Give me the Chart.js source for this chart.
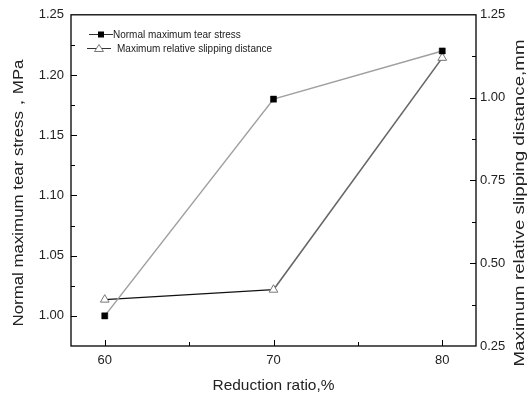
<!DOCTYPE html>
<html><head><meta charset="utf-8">
<script src="https://cdn.jsdelivr.net/npm/chart.js@4"></script>
<style>html,body{margin:0;padding:0;background:#fff}#wrap{width:529px;height:400px}</style>
</head><body><div id="wrap"><canvas id="c"></canvas></div>
<script>
const categories = [60, 70, 80];
const tearStress = [1.00, 1.18, 1.22];
const slipDistance = [0.39, 0.42, 1.12];
const leftTicks = [1.00, 1.05, 1.10, 1.15, 1.20, 1.25];
const rightTicks = [0.25, 0.50, 0.75, 1.00, 1.25];
const xTicks = [60, 70, 80];
const xTitle = 'Reduction ratio,%';
const yTitle = 'Normal maximum tear stress，MPa';
const y2Title = 'Maximum relative slipping distance,mm';
const FONT = "'Liberation Sans', Arial, sans-serif";

function fitText(ctx, text, cx, cy, rot, targetLen, size) {
  ctx.save();
  ctx.font = size + 'px ' + FONT;
  const w = ctx.measureText(text).width;
  ctx.translate(cx, cy);
  ctx.rotate(rot);
  ctx.scale(targetLen / w, 1);
  ctx.textAlign = 'center'; ctx.textBaseline = 'middle'; ctx.fillStyle = '#222';
  ctx.fillText(text, 0, 0);
  ctx.restore();
}

const insideTicks = {
  id: 'insideTicks',
  afterDraw(chart) {
    const ctx = chart.ctx, a = chart.chartArea;
    const x = chart.scales.x, y = chart.scales.y, y2 = chart.scales.y2;
    ctx.save();
    ctx.strokeStyle = '#000'; ctx.lineWidth = 1.3;
    ctx.strokeRect(a.left, a.top, a.right - a.left, a.bottom - a.top);
    ctx.lineWidth = 1;
    ctx.beginPath();
    for (let v = 60; v <= 80; v += 5) {
      const px = Math.round(x.getPixelForValue(v)) + 0.5;
      const L = v % 10 === 0 ? 6 : 4;
      ctx.moveTo(px, a.bottom); ctx.lineTo(px, a.bottom - L);
    }
    for (let i = 0; i <= 11; i++) {
      const v = 0.975 + i * 0.025;
      const py = Math.round(y.getPixelForValue(v)) + 0.5;
      const L = i % 2 === 1 ? 6 : 4;
      if (py > a.top + 1 && py < a.bottom - 1) { ctx.moveTo(a.left, py); ctx.lineTo(a.left + L, py); }
    }
    for (let i = 0; i <= 8; i++) {
      const v = 0.25 + i * 0.125;
      const py = Math.round(y2.getPixelForValue(v)) + 0.5;
      const L = i % 2 === 0 ? 6 : 4;
      if (py > a.top + 1 && py < a.bottom - 1) { ctx.moveTo(a.right, py); ctx.lineTo(a.right - L, py); }
    }
    ctx.stroke();
    // legend
    ctx.font = '10px ' + FONT; ctx.fillStyle = '#222'; ctx.textBaseline = 'middle';
    ctx.strokeStyle = '#333'; ctx.lineWidth = 1;
    ctx.beginPath(); ctx.moveTo(89, 34.5); ctx.lineTo(113, 34.5); ctx.stroke();
    ctx.fillStyle = '#000'; ctx.fillRect(98, 31.5, 6, 6);
    ctx.fillStyle = '#222';
    ctx.fillText(chart.data.datasets[0].label, 113, 35);
    ctx.beginPath(); ctx.moveTo(87, 48.5); ctx.lineTo(111, 48.5); ctx.stroke();
    ctx.fillStyle = '#fff'; ctx.strokeStyle = '#777';
    ctx.beginPath(); ctx.moveTo(99, 44.5); ctx.lineTo(103.5, 51.5); ctx.lineTo(94.5, 51.5); ctx.closePath(); ctx.fill(); ctx.stroke();
    ctx.fillStyle = '#222';
    ctx.fillText(chart.data.datasets[1].label, 117, 49);
    ctx.restore();
    // axis titles
    fitText(ctx, xTitle, (a.left + a.right) / 2, 386, 0, 122, 15);
    fitText(ctx, yTitle, 19, 193, -Math.PI / 2, 267, 15);
    fitText(ctx, y2Title, 520, 203, -Math.PI / 2, 327, 14);
  }
};

new Chart(document.getElementById('c'), {
  type: 'line',
  data: {
    datasets: [
      {
        label: 'Normal maximum tear stress',
        data: categories.map((c, i) => ({x: c, y: tearStress[i]})),
        yAxisID: 'y',
        borderColor: '#a0a0a0', borderWidth: 1.5,
        pointStyle: 'rect', pointRadius: 4.3, pointBackgroundColor: '#000', pointBorderColor: '#000', pointBorderWidth: 0.5,
        tension: 0
      },
      {
        label: 'Maximum relative slipping distance',
        data: categories.map((c, i) => ({x: c, y: slipDistance[i]})),
        yAxisID: 'y2',
        borderColor: '#111', borderWidth: 1.2,
        segment: { borderColor: ctx => ctx.p0DataIndex === 1 ? '#666' : '#111', borderWidth: ctx => ctx.p0DataIndex === 1 ? 1.6 : 1.2 },
        pointStyle: 'triangle', pointRadius: 5, pointBackgroundColor: '#fff', pointBorderColor: '#777', pointBorderWidth: 1,
        tension: 0
      }
    ]
  },
  options: {
    responsive: true, maintainAspectRatio: false, animation: false,
    layout: { padding: { top: 14, left: 0, right: 0, bottom: 0 } },
    plugins: { legend: { display: false }, tooltip: { enabled: false } },
    scales: {
      x: {
        type: 'linear', min: 58, max: 82,
        afterBuildTicks: s => { s.ticks = xTicks.map(v => ({value: v})); },
        grid: { display: false, drawTicks: false },
        border: { display: false },
        ticks: { color: '#222', font: { size: 13, family: FONT }, padding: 7 },
        afterFit: s => { s.height = 54; }
      },
      y: {
        type: 'linear', position: 'left', min: 0.975, max: 1.25,
        afterBuildTicks: s => { s.ticks = leftTicks.map(v => ({value: v})); },
        grid: { display: false, drawTicks: false },
        border: { display: false },
        ticks: { color: '#222', font: { size: 13, family: FONT }, padding: 7, callback: v => v.toFixed(2) },
        afterFit: s => { s.width = 71; }
      },
      y2: {
        type: 'linear', position: 'right', min: 0.25, max: 1.25,
        afterBuildTicks: s => { s.ticks = rightTicks.map(v => ({value: v})); },
        grid: { display: false, drawTicks: false },
        border: { display: false },
        ticks: { color: '#222', font: { size: 13, family: FONT }, padding: 4, callback: v => v.toFixed(2) },
        afterFit: s => { s.width = 53; }
      }
    }
  },
  plugins: [insideTicks]
});
</script></body></html>
